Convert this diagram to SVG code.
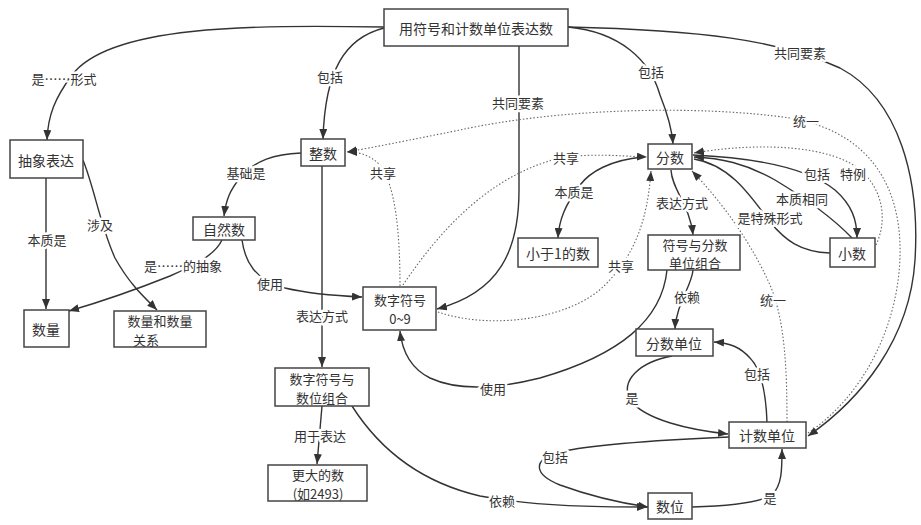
<svg xmlns="http://www.w3.org/2000/svg" width="921" height="525" viewBox="0 0 921 525">
<style>
.n rect{fill:#fff;stroke:#444;stroke-width:1.5}
.n text{font-family:"Noto Sans CJK SC","Liberation Sans",sans-serif;font-size:14px;fill:#333;text-anchor:middle;dominant-baseline:central}
.n text.s{font-size:13px}
.c path{fill:none;stroke:#333;stroke-width:1.4}
.c path.d{stroke:#666;stroke-width:1.1;stroke-dasharray:1.5 2}
.l text{font-family:"Noto Sans CJK SC","Liberation Sans",sans-serif;font-size:13px;fill:#333;text-anchor:middle;dominant-baseline:central;paint-order:stroke;stroke:#fff;stroke-width:5px;stroke-linejoin:round}
</style>
<defs>
<marker id="a" markerUnits="userSpaceOnUse" markerWidth="11" markerHeight="8" refX="10" refY="4" orient="auto">
<path d="M0,0 L10,4 L0,8 z" fill="#333"/>
</marker>
</defs>
<rect width="921" height="525" fill="#fff"/>
<g id="connectors" class="c">
<path d="M384,27 C250,25 110,25 72,75 C55,98 48,115 47,140" marker-end="url(#a)"/>
<path d="M384,28 C345,38 325,70 323,139" marker-end="url(#a)"/>
<path d="M519,46 L519,190 C519,250 500,292 437,309" marker-end="url(#a)"/>
<path d="M568,27 C620,32 650,60 660,95 C668,115 672,130 673,144" marker-end="url(#a)"/>
<path d="M568,27 C700,30 780,40 840,68 C900,100 920,180 915,260 C910,340 860,400 808,436" marker-end="url(#a)"/>
<path class="d" d="M808,433 C865,395 902,320 900,245 C898,175 860,130 790,118 C700,105 560,108 460,130 C410,140 370,148 347,152" marker-end="url(#a)"/>
<path class="d" d="M400,286 C400,230 395,185 380,165 C370,155 360,152 347,152" marker-end="url(#a)"/>
<path class="d" d="M403,285 C440,230 490,175 560,158 C590,153 620,156 647,157" marker-end="url(#a)"/>
<path class="d" d="M438,312 C490,330 570,320 605,285 C640,250 648,210 651,171" marker-end="url(#a)"/>
<path class="d" d="M787,422 C787,370 785,320 770,285 C750,240 720,200 692,171" marker-end="url(#a)"/>
<path class="d" d="M876,245 C890,215 880,180 850,163 C810,142 740,145 694,153" marker-end="url(#a)"/>
<path d="M693,155 C760,158 810,170 835,190 C852,205 857,220 857,238" marker-end="url(#a)"/>
<path d="M852,238 C830,215 800,195 775,180 C745,163 720,158 694,157" marker-end="url(#a)"/>
<path d="M830,253 C800,252 785,240 770,222 C750,195 730,165 694,159"/>
<path d="M671,170 C672,190 690,205 693,235" marker-end="url(#a)"/>
<path d="M643,157 C610,160 590,172 580,185 C565,205 559,220 558,238" marker-end="url(#a)"/>
<path d="M693,270 C692,285 676,305 675,329" marker-end="url(#a)"/>
<path d="M667,270 C662,320 620,355 540,378 C500,388 460,392 430,378 C410,368 402,350 400,331" marker-end="url(#a)"/>
<path d="M672,356 C640,362 620,380 630,400 C645,420 690,430 728,434" marker-end="url(#a)"/>
<path d="M729,437 C660,440 590,445 560,452 C530,460 535,475 560,485 C590,496 620,503 648,507" marker-end="url(#a)"/>
<path d="M692,507 C730,506 760,502 772,495 C782,485 782,470 782,449" marker-end="url(#a)"/>
<path d="M767,422 C766,395 762,370 750,358 C740,347 730,343 714,342" marker-end="url(#a)"/>
<path d="M352,406 C380,450 420,482 480,496 C540,507 600,507 647,507" marker-end="url(#a)"/>
<path d="M322,166 L322,367" marker-end="url(#a)"/>
<path d="M322,406 L317,464" marker-end="url(#a)"/>
<path d="M242,240 C245,262 255,280 285,288 C310,294 340,296 362,297" marker-end="url(#a)"/>
<path d="M222,240 C215,255 195,265 170,276 C130,292 100,302 69,311" marker-end="url(#a)"/>
<path d="M83,160 C95,190 100,225 115,258 C130,285 145,298 157,310" marker-end="url(#a)"/>
<path d="M46,178 L46,309" marker-end="url(#a)"/>
<path d="M301,153 C275,154 255,160 240,178 C230,190 226,200 224,216" marker-end="url(#a)"/>
<g class="l">
<text x="64" y="78">是……形式</text>
<text x="330" y="76">包括</text>
<text x="246" y="172">基础是</text>
<text x="383" y="172">共享</text>
<text x="100" y="224">涉及</text>
<text x="47" y="239">本质是</text>
<text x="183" y="265">是……的抽象</text>
<text x="270" y="283">使用</text>
<text x="322" y="315">表达方式</text>
<text x="320" y="435">用于表达</text>
<text x="518" y="102">共同要素</text>
<text x="651" y="71">包括</text>
<text x="800" y="52">共同要素</text>
<text x="806" y="120">统一</text>
<text x="566" y="157">共享</text>
<text x="574" y="191">本质是</text>
<text x="682" y="202">表达方式</text>
<text x="817" y="173">包括</text>
<text x="853" y="173">特例</text>
<text x="802" y="198">本质相同</text>
<text x="770" y="217">是特殊形式</text>
<text x="621" y="265">共享</text>
<text x="687" y="296">依赖</text>
<text x="773" y="299">统一</text>
<text x="493" y="388">使用</text>
<text x="632" y="397">是</text>
<text x="757" y="373">包括</text>
<text x="555" y="456">包括</text>
<text x="502" y="500">依赖</text>
<text x="770" y="497">是</text>
</g>
</g>
<g id="n-top" class="n"><rect x="384" y="9" width="184" height="37"/><text x="476" y="28">用符号和计数单位表达数</text></g>
<g id="n-chouxiang" class="n"><rect x="10" y="140" width="73" height="38"/><text x="46" y="160">抽象表达</text></g>
<g id="n-zhengshu" class="n"><rect x="301" y="139" width="44" height="27"/><text x="323" y="153">整数</text></g>
<g id="n-ziran" class="n"><rect x="193" y="217" width="62" height="23"/><text x="224" y="229">自然数</text></g>
<g id="n-shuliang" class="n"><rect x="24" y="310" width="45" height="37"/><text x="46" y="329">数量</text></g>
<g id="n-guanxi" class="n"><rect x="114" y="311" width="92" height="36"/><text class="s" x="160" y="320">数量和数量</text><text class="s" x="146" y="339">关系</text></g>
<g id="n-fuhao09" class="n"><rect x="363" y="287" width="73" height="43"/><text class="s" x="400" y="299">数字符号</text><text class="s" x="400" y="318">0~9</text></g>
<g id="n-zuhe" class="n"><rect x="275" y="368" width="94" height="38"/><text class="s" x="322" y="378">数字符号与</text><text class="s" x="322" y="397">数位组合</text></g>
<g id="n-gengda" class="n"><rect x="268" y="465" width="99" height="36"/><text class="s" x="318" y="474">更大的数</text><text class="s" x="318" y="493">(如2493)</text></g>
<g id="n-fenshu" class="n"><rect x="648" y="144" width="44" height="25"/><text x="670" y="157">分数</text></g>
<g id="n-xiaoyu1" class="n"><rect x="518" y="238" width="80" height="29"/><text x="558" y="253">小于1的数</text></g>
<g id="n-fenzuhe" class="n"><rect x="648" y="235" width="92" height="35"/><text class="s" x="695" y="244">符号与分数</text><text class="s" x="695" y="262">单位组合</text></g>
<g id="n-xiaoshu" class="n"><rect x="830" y="238" width="45" height="29"/><text x="852" y="253">小数</text></g>
<g id="n-fendanwei" class="n"><rect x="636" y="329" width="77" height="27"/><text x="674" y="343">分数单位</text></g>
<g id="n-jishu" class="n"><rect x="729" y="422" width="77" height="26"/><text x="767" y="435">计数单位</text></g>
<g id="n-shuwei" class="n"><rect x="648" y="493" width="44" height="26"/><text x="670" y="506">数位</text></g>
</svg>
